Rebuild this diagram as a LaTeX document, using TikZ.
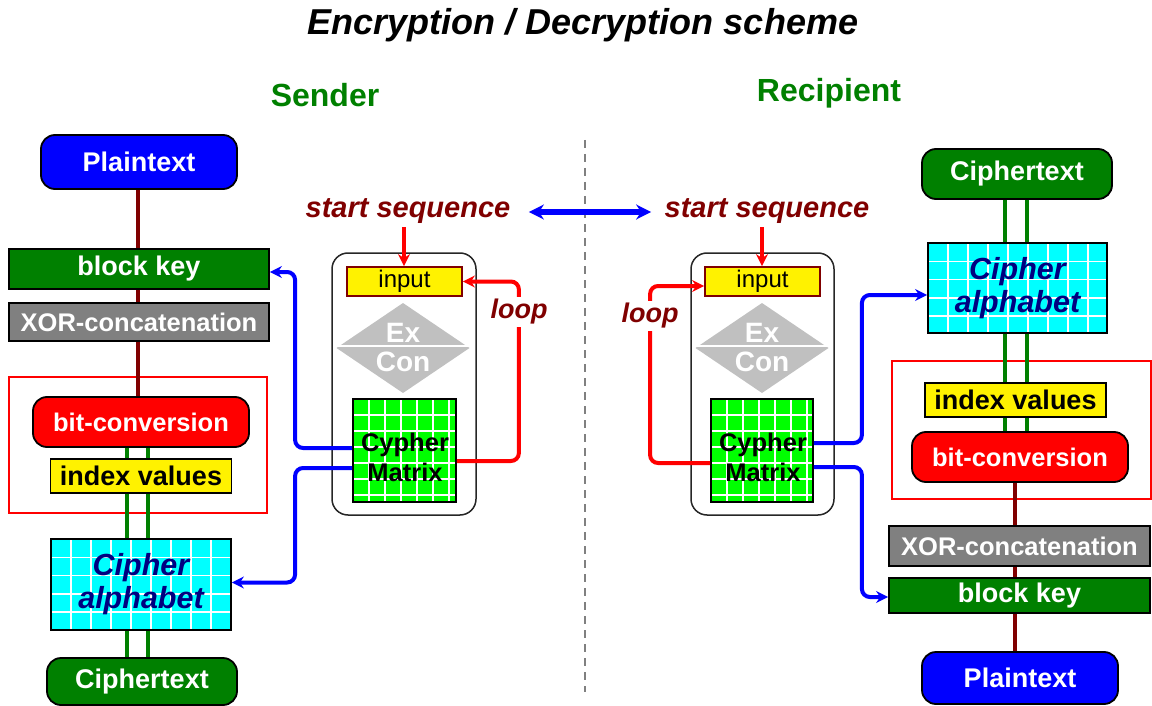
\documentclass[tikz,border=0pt]{standalone}
\usepackage{fontspec}
\setmainfont{Liberation Sans}
\usetikzlibrary{arrows.meta}
\definecolor{dred}{RGB}{128,0,0}
\definecolor{dgreen}{RGB}{0,128,0}
\definecolor{navyc}{RGB}{0,0,128}
\definecolor{lgray}{RGB}{192,192,192}
\definecolor{mgray}{RGB}{128,128,128}
\definecolor{cyanc}{RGB}{0,255,255}
\definecolor{limec}{RGB}{0,255,0}
\newcommand\gridlinesX[2]{%
  \foreach \k in {1,...,12}{%
    \draw[white,line width=1.6pt] ([xshift=\k*#1]path picture bounding box.north west) -- ([xshift=\k*#1]path picture bounding box.south west);
    \draw[white,line width=1.6pt] ([yshift=-\k*#2]path picture bounding box.north west) -- ([yshift=-\k*#2]path picture bounding box.north east);}}
\begin{document}
\begin{tikzpicture}[x=1pt,y=-1pt,
  box/.style={draw=black,line width=1.8pt,inner sep=0pt,font=\fontsize{27}{29}\selectfont\bfseries},
  smallfont/.style={font=\fontsize{25.5}{27}\selectfont\bfseries},
  pill/.style={box,rounded corners=14pt},
  regframe/.style={draw=red,line width=1.4pt,inner sep=0pt},
  module/.style={draw=black!85,line width=1.5pt,rounded corners=16pt,inner sep=0pt},
  inbox/.style={draw=dred,line width=1.8pt,fill=yellow,inner sep=0pt,font=\fontsize{24}{26}\selectfont},
  alphabox/.style={box,fill=cyanc,text=navyc,align=center,font=\fontsize{30.5}{33}\selectfont\bfseries\itshape,path picture={\gridlinesX{20pt}{18.3pt}}},
  matrixbox/.style={box,fill=limec,path picture={\gridlinesX{16pt}{16pt}}},
  mtext/.style={align=center,font=\fontsize{25.5}{30}\selectfont\bfseries},
  dtext/.style={text=white,font=\fontsize{28}{29}\selectfont\bfseries},
  seq/.style={text=dred,font=\fontsize{29}{30}\selectfont\bfseries\itshape},
  looplab/.style={text=dred,fill=white,inner sep=2pt,font=\fontsize{27}{29}\selectfont\bfseries\itshape},
  side/.style={text=dgreen,font=\fontsize{32}{33}\selectfont\bfseries},
  keyline/.style={dred,line width=3.5pt},
  grline/.style={dgreen,line width=3.2pt},
  redarr/.style={red,line width=4pt,rounded corners=8pt,-{Stealth[length=12pt,width=12pt]}},
  bluearr/.style={blue,line width=4pt,rounded corners=8pt,-{Stealth[length=12pt,width=12pt]}}]
\useasboundingbox (0,0) rectangle (1152,706);

% title and sides
\node[font=\fontsize{36}{38}\selectfont\bfseries\itshape] (title) at (583,25) {Encryption / Decryption scheme};
\node[side] (sender) at (325,95) {Sender};
\node[side] (recip) at (829,93) {Recipient};
\coordinate (dtop) at (585,140);
\coordinate (dbot) at (585,692);
\draw[mgray,line width=1.4pt,dash pattern=on 8pt off 6pt] (dtop) -- (dbot);

% ---------------- left column (sender)
\node[pill,fill=blue,text=white,minimum width=196,minimum height=54] (lpt) at (139,162) {Plaintext};
\node[box,fill=dgreen,text=white,minimum width=260,minimum height=40] (lbk) at (139,269) {block key};
\node[box,smallfont,fill=mgray,text=white,minimum width=260,minimum height=38] (lxor) at (139,322) {XOR-concatenation};
\node[regframe,minimum width=258,minimum height=136] (lfr) at (138,445) {};
\node[pill,smallfont,fill=red,text=white,minimum width=216,minimum height=50] (lbit) at (141,422) {bit-conversion};
\node[box,fill=yellow,text=black,minimum width=181,minimum height=34] (lidx) at (141,476) {index values};
\node[alphabox,minimum width=180,minimum height=91] (lca) at (141,584.5) {Cipher\\alphabet};
\node[pill,fill=dgreen,text=white,minimum width=190,minimum height=47] (lct) at (142,681.5) {Ciphertext};

\draw[keyline] ([xshift=-1pt]lpt.south) -- ([xshift=-1pt]lpt.south |- lbk.north);
\draw[keyline] ([xshift=-1pt]lbk.south) -- ([xshift=-1pt]lbk.south |- lxor.north);
\draw[keyline] ([xshift=-1pt]lxor.south) -- ([xshift=-1pt]lxor.south |- lbit.north);
\foreach \s in {-14pt,7pt}{
  \draw[grline] ([xshift=\s]lbit.south) -- ([xshift=\s]lbit.south |- lidx.north);
  \draw[grline] ([xshift=\s]lidx.south) -- ([xshift=\s]lidx.south |- lca.north);
  \draw[grline] ([xshift=\s]lca.south) -- ([xshift=\s]lca.south |- lct.north);}

% ---------------- left module
\node[module,minimum width=144,minimum height=262] (lmod) at (404,384) {};
\node[inbox,minimum width=115,minimum height=29] (lin) at (404.5,281.5) {input};
\coordinate (ldc) at (403,348);
\fill[lgray] ([xshift=-66.5pt]ldc) -- ([yshift=45pt]ldc) -- ([xshift=66.5pt]ldc) -- ([yshift=-45pt]ldc) -- cycle;
\draw[white,line width=1.8pt] ([xshift=-66.5pt,yshift=2pt]ldc) -- ([xshift=66.5pt,yshift=2pt]ldc);
\node[dtext] (lex) at (403,333) {Ex};
\node[dtext] (lcon) at (403,362) {Con};
\node[matrixbox,minimum width=103,minimum height=103] (lcm) at (404.5,450.5) {};
\node[mtext] (lcmt) at (405,457) {Cypher\\Matrix};

\node[seq] (lss) at (408,211) {start sequence};
\draw[redarr] ([xshift=-4pt]lss.south) -- ([xshift=-4pt]lss.south |- lin.north);
\draw[redarr] ([yshift=-10.5pt]lcm.east) -- ++(62,0) |- (lin.east);
\node[looplab] (lloop) at (519,312) {loop};
\draw[bluearr] ([yshift=2.5pt]lcm.west) -- ++(-57,0) |- ([yshift=-3pt]lbk.east);
\draw[bluearr] ([yshift=-17.5pt]lcm.west) -- ++(-57,0) |- ([yshift=2pt]lca.east);

% ---------------- right module
\node[module,minimum width=143,minimum height=262] (rmod) at (762.5,384) {};
\node[inbox,minimum width=115,minimum height=29] (rin) at (762.5,281.5) {input};
\coordinate (rdc) at (762,348);
\fill[lgray] ([xshift=-66.5pt]rdc) -- ([yshift=45pt]rdc) -- ([xshift=66.5pt]rdc) -- ([yshift=-45pt]rdc) -- cycle;
\draw[white,line width=1.8pt] ([xshift=-66.5pt,yshift=2pt]rdc) -- ([xshift=66.5pt,yshift=2pt]rdc);
\node[dtext] (rex) at (762,333) {Ex};
\node[dtext] (rcon) at (762,362) {Con};
\node[matrixbox,minimum width=102,minimum height=103] (rcm) at (762,450.5) {};
\node[mtext] (rcmt) at (763,457) {Cypher\\Matrix};

\node[seq] (rss) at (767,211) {start sequence};
\draw[redarr] ([xshift=-5pt]rss.south) -- ([xshift=-5pt]rss.south |- rin.north);
\draw[redarr] ([yshift=-12.5pt]rcm.west) -- ++(-60,0) |- ([yshift=-4.5pt]rin.west);
\node[looplab] (rloop) at (650,316) {loop};

\draw[blue,line width=5pt,{Stealth[length=15pt,width=15pt]}-{Stealth[length=15pt,width=15pt]}] ([xshift=15pt,yshift=-1pt]lss.east) -- ([xshift=-10pt,yshift=-1pt]rss.west);

% ---------------- right column (recipient)
\node[pill,fill=dgreen,text=white,minimum width=190,minimum height=50] (rct) at (1017,174) {Ciphertext};
\node[alphabox,minimum width=179,minimum height=90] (rca) at (1017.5,288) {Cipher\\alphabet};
\node[regframe,minimum width=259,minimum height=138] (rfr) at (1021.5,430) {};
\node[box,fill=yellow,text=black,minimum width=181,minimum height=34] (ridx) at (1015.5,400) {index values};
\node[pill,smallfont,fill=red,text=white,minimum width=216,minimum height=50] (rbit) at (1020,457) {bit-conversion};
\node[box,smallfont,fill=mgray,text=white,minimum width=261,minimum height=40] (rxor) at (1019.5,546) {XOR-concatenation};
\node[box,fill=dgreen,text=white,minimum width=261,minimum height=35] (rbk) at (1019.5,595.5) {block key};
\node[pill,fill=blue,text=white,minimum width=196,minimum height=52] (rpt) at (1020,678) {Plaintext};

\foreach \s in {-12pt,10pt}{
  \draw[grline] ([xshift=\s]rct.south) -- ([xshift=\s]rct.south |- rca.north);
  \draw[grline] ([xshift=\s]rct.south |- rca.south) -- ([xshift=\s]rct.south |- ridx.north);
  \draw[grline] ([xshift=\s]rct.south |- ridx.south) -- ([xshift=\s]rct.south |- rbit.north);}
\draw[keyline] ([xshift=-5pt]rbit.south) -- ([xshift=-5pt]rbit.south |- rxor.north);
\draw[keyline] ([xshift=-5pt]rbit.south |- rxor.south) -- ([xshift=-5pt]rbit.south |- rbk.north);
\draw[keyline] ([xshift=-5pt]rbit.south |- rbk.south) -- ([xshift=-5pt]rbit.south |- rpt.north);

\draw[bluearr] ([yshift=7.5pt]rcm.east) -- ++(48,0) |- ([yshift=-7pt]rca.west);
\draw[bluearr] ([yshift=-16.5pt]rcm.east) -- ++(48,0) |- ([yshift=-1.5pt]rbk.west);
\end{tikzpicture}
\end{document}
